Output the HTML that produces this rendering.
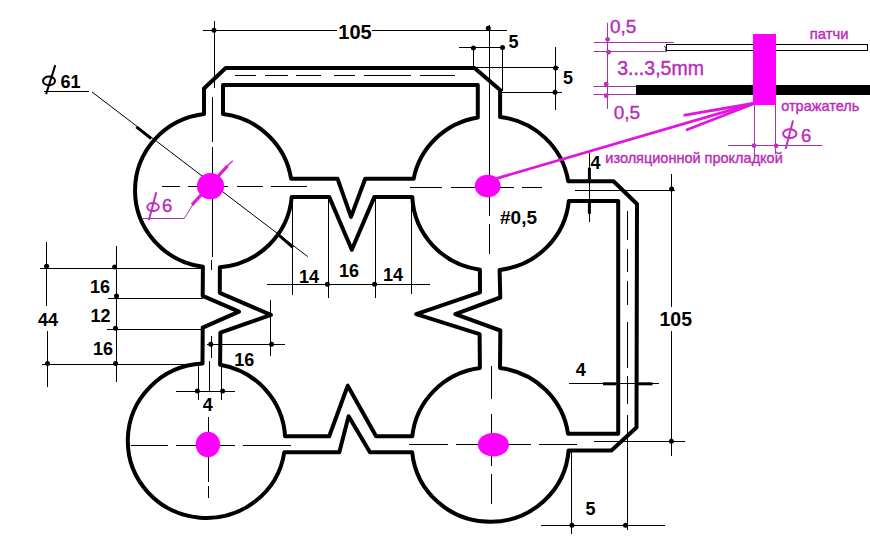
<!DOCTYPE html>
<html><head><meta charset="utf-8"><title>drawing</title><style>
html,body{margin:0;padding:0;background:#fff;overflow:hidden;}
svg{display:block;}
text{font-family:"Liberation Sans",sans-serif;}
</style></head><body>
<svg width="870" height="537" viewBox="0 0 870 537">
<rect width="870" height="537" fill="#fff"/>
<g stroke="#000" stroke-width="1" fill="none">
<line x1="203" y1="30.5" x2="507" y2="30.5"/>
<line x1="214.5" y1="21" x2="214.5" y2="88"/>
<line x1="489.5" y1="25" x2="489.5" y2="100"/>
<line x1="235" y1="75.5" x2="256" y2="75.5"/>
<line x1="265" y1="75.5" x2="288" y2="75.5"/>
<line x1="296" y1="75.5" x2="321" y2="75.5"/>
<line x1="334" y1="75.5" x2="355" y2="75.5"/>
<line x1="364" y1="75.5" x2="411" y2="75.5"/>
<line x1="420" y1="75.5" x2="455" y2="75.5"/>
<line x1="459" y1="47.5" x2="504" y2="47.5"/>
<line x1="473.5" y1="48" x2="473.5" y2="67"/>
<line x1="502.5" y1="48" x2="502.5" y2="91"/>
<line x1="555.5" y1="47" x2="555.5" y2="110"/>
<line x1="476" y1="67.5" x2="559" y2="67.5"/>
<line x1="500" y1="92.5" x2="562" y2="92.5"/>
<line x1="212.5" y1="97" x2="212.5" y2="142"/>
<line x1="212.5" y1="147" x2="212.5" y2="257"/>
<line x1="211.5" y1="260" x2="211.5" y2="270"/>
<line x1="162" y1="186.5" x2="180" y2="186.5"/>
<line x1="188" y1="186.5" x2="228" y2="186.5"/>
<line x1="237" y1="186.5" x2="263" y2="186.5"/>
<line x1="271" y1="186.5" x2="307" y2="186.5"/>
<line x1="489.5" y1="100" x2="489.5" y2="216"/>
<line x1="489.5" y1="224" x2="489.5" y2="254"/>
<line x1="410" y1="187.5" x2="442" y2="187.5"/>
<line x1="451" y1="187.5" x2="514" y2="187.5"/>
<line x1="522" y1="187.5" x2="542" y2="187.5"/>
<line x1="209.5" y1="361" x2="209.5" y2="391"/>
<line x1="208.5" y1="417" x2="208.5" y2="482"/>
<line x1="208.5" y1="486" x2="208.5" y2="498"/>
<line x1="131" y1="445.5" x2="168" y2="445.5"/>
<line x1="176" y1="445.5" x2="196" y2="445.5"/>
<line x1="196" y1="445.5" x2="220" y2="445.5"/>
<line x1="220" y1="445.5" x2="235" y2="445.5"/>
<line x1="243" y1="445.5" x2="291" y2="445.5"/>
<line x1="491.5" y1="366" x2="491.5" y2="399"/>
<line x1="491.5" y1="414" x2="491.5" y2="466"/>
<line x1="491.5" y1="474" x2="491.5" y2="504"/>
<line x1="409" y1="444.5" x2="448" y2="444.5"/>
<line x1="456" y1="444.5" x2="531" y2="444.5"/>
<line x1="539" y1="444.5" x2="577" y2="444.5"/>
<line x1="44" y1="91.5" x2="89" y2="91.5"/>
<line x1="92" y1="92" x2="307.7" y2="256.6"/>
<line x1="46.5" y1="242" x2="46.5" y2="306"/>
<line x1="47.5" y1="331" x2="47.5" y2="387"/>
<line x1="40" y1="268.5" x2="202" y2="268.5"/>
<line x1="42" y1="364.5" x2="201" y2="364.5"/>
<line x1="116.5" y1="246" x2="116.5" y2="382"/>
<line x1="108" y1="298.5" x2="203" y2="298.5"/>
<line x1="107" y1="329.5" x2="203" y2="329.5"/>
<line x1="270.5" y1="300" x2="270.5" y2="356"/>
<line x1="207" y1="344.5" x2="285" y2="344.5"/>
<line x1="211.5" y1="336" x2="211.5" y2="358"/>
<line x1="176" y1="391.5" x2="235" y2="391.5"/>
<line x1="198.5" y1="365" x2="198.5" y2="400"/>
<line x1="221.5" y1="365" x2="221.5" y2="400"/>
<line x1="267" y1="284.5" x2="430" y2="284.5"/>
<line x1="292.5" y1="197" x2="292.5" y2="295"/>
<line x1="328.5" y1="197" x2="328.5" y2="298"/>
<line x1="375.5" y1="197" x2="375.5" y2="298"/>
<line x1="411.5" y1="197" x2="411.5" y2="294"/>
<line x1="589.5" y1="153" x2="589.5" y2="222"/>
<line x1="575" y1="190.5" x2="675" y2="190.5"/>
<line x1="671.5" y1="174" x2="671.5" y2="307"/>
<line x1="671.5" y1="331" x2="671.5" y2="456"/>
<line x1="594" y1="441.5" x2="685" y2="441.5"/>
<line x1="627.5" y1="211" x2="627.5" y2="240"/>
<line x1="627.5" y1="249" x2="627.5" y2="272"/>
<line x1="627.5" y1="281" x2="627.5" y2="305"/>
<line x1="627.5" y1="313" x2="627.5" y2="313"/>
<line x1="627.5" y1="322" x2="627.5" y2="368"/>
<line x1="627.5" y1="376" x2="627.5" y2="404"/>
<line x1="627.5" y1="415" x2="627.5" y2="442"/>
<line x1="627.5" y1="442" x2="627.5" y2="530"/>
<line x1="569" y1="383.5" x2="659" y2="383.5"/>
<line x1="571.5" y1="450" x2="571.5" y2="534"/>
<line x1="541" y1="525.5" x2="665" y2="525.5"/>
</g>
<g stroke="#000" stroke-width="3" fill="none">
<line x1="136.4" y1="126.8" x2="151.3" y2="138.7"/>
<line x1="279.5" y1="235.6" x2="292.9" y2="247.5"/>
<line x1="589.4" y1="167.7" x2="589.4" y2="179.4"/>
<line x1="589.4" y1="202" x2="589.4" y2="213.8"/>
<line x1="603" y1="383.8" x2="616" y2="383.8"/>
<line x1="638" y1="383.8" x2="652.5" y2="383.8"/>
</g>
<g stroke="#000" stroke-width="4" fill="none" stroke-linejoin="round">
<path d="M204.00,88.50 L225.70,68.00 L474.50,68.00 L500.10,90.00 L500.10,116.95 A78.5,77.0 0 0 1 568.21,181.20 L613.50,181.20 L637.00,204.00 L636.50,427.60 L611.40,450.50 L568.57,450.50 A78.5,77.2 0 0 1 412.18,452.20 L370.00,452.20 L348.60,416.30 L339.30,452.20 L284.32,452.20 A78.7,77.2 0 1 1 202.50,363.60 L202.70,327.60 L239.00,311.60 L202.70,295.90 L202.90,266.79 A78.5,77.0 0 0 1 204.00,114.07 Z"/>
<path d="M223.00,114.07 L223.00,85.00 L477.80,85.00 L477.80,117.45 A78.5,77.0 0 0 0 413.62,178.80 L365.20,178.80 L351.00,216.90 L337.60,178.80 L291.09,178.80 A78.5,77.0 0 0 0 223.00,114.07 Z"/>
<path d="M291.73,196.90 L329.20,196.90 L351.80,249.80 L374.40,196.90 L412.28,196.90 A78.5,77.0 0 0 0 479.90,269.67 L480.00,292.30 L416.20,314.10 L479.60,334.20 L479.90,368.08 A78.5,77.2 0 0 0 412.27,436.20 L376.10,436.20 L347.70,385.70 L329.20,436.20 L285.07,436.20 A78.7,77.2 0 0 0 220.10,364.66 L220.40,332.70 L270.90,314.90 L219.80,292.80 L219.90,267.24 A78.5,77.0 0 0 0 291.73,196.90 Z"/>
<path d="M568.82,201.00 L618.20,201.00 L618.20,433.70 L568.01,433.70 A78.5,77.2 0 0 0 500.00,367.99 L500.30,330.50 L455.30,314.10 L500.30,297.50 L499.60,269.90 A78.5,77.0 0 0 0 568.82,201.00 Z"/>
</g>
<g fill="#000">
<circle cx="214" cy="30.3" r="2.5"/>
<circle cx="488.3" cy="28.3" r="2.5"/>
<circle cx="473.4" cy="48.0" r="2.5"/>
<circle cx="502.5" cy="47.6" r="2.5"/>
<circle cx="555.6" cy="68.0" r="2.5"/>
<circle cx="555.0" cy="92.3" r="2.5"/>
<circle cx="46.6" cy="266.3" r="2.5"/>
<circle cx="47.5" cy="363.6" r="2.5"/>
<circle cx="114.6" cy="267.0" r="2.5"/>
<circle cx="116.5" cy="296" r="2.5"/>
<circle cx="115.5" cy="328.2" r="2.5"/>
<circle cx="115.6" cy="363.6" r="2.5"/>
<circle cx="210.8" cy="344.2" r="2.5"/>
<circle cx="271.6" cy="344.2" r="2.5"/>
<circle cx="197.4" cy="391.1" r="2.5"/>
<circle cx="222.6" cy="391.1" r="2.5"/>
<circle cx="327.4" cy="284.2" r="2.5"/>
<circle cx="374.6" cy="284.2" r="2.5"/>
<circle cx="671.6" cy="189.1" r="2.5"/>
<circle cx="671.4" cy="441.3" r="2.5"/>
<circle cx="571.9" cy="525.2" r="2.5"/>
<circle cx="625.5" cy="525.2" r="2.5"/>
</g>
<g fill="#fff">
<rect x="337" y="22" width="35" height="18"/>
<rect x="35" y="306" width="27" height="25"/>
<rect x="657" y="307" width="37" height="24"/>
</g>
<g stroke="#000" stroke-width="2" fill="none"><ellipse cx="49" cy="80.9" rx="6" ry="4.3"/><line x1="55.3" y1="65.1" x2="46.1" y2="94.1"/></g>
<text x="338.3" y="38.7" font-size="20" font-weight="bold" fill="#000">105</text>
<text x="508.5" y="47.5" font-size="18" font-weight="bold" fill="#000">5</text>
<text x="563.0" y="84.2" font-size="18" font-weight="bold" fill="#000">5</text>
<text x="60.5" y="87.8" font-size="18" font-weight="bold" fill="#000">61</text>
<text x="500.0" y="224.2" font-size="19" font-weight="bold" fill="#000">#0,5</text>
<text x="38.0" y="325.5" font-size="18" font-weight="bold" fill="#000">44</text>
<text x="90.0" y="293.0" font-size="18" font-weight="bold" fill="#000">16</text>
<text x="90.5" y="322.2" font-size="18" font-weight="bold" fill="#000">12</text>
<text x="93.0" y="354.6" font-size="18" font-weight="bold" fill="#000">16</text>
<text x="234.2" y="366.0" font-size="18" font-weight="bold" fill="#000">16</text>
<text x="202.8" y="411.3" font-size="18" font-weight="bold" fill="#000">4</text>
<text x="299.0" y="282.8" font-size="18" font-weight="bold" fill="#000">14</text>
<text x="339.0" y="277.2" font-size="18" font-weight="bold" fill="#000">16</text>
<text x="383.0" y="281.4" font-size="18" font-weight="bold" fill="#000">14</text>
<text x="590.5" y="168.9" font-size="18" font-weight="bold" fill="#000">4</text>
<text x="659.5" y="325.6" font-size="19.5" font-weight="bold" fill="#000">105</text>
<text x="575.8" y="376.0" font-size="18" font-weight="bold" fill="#000">4</text>
<text x="585.5" y="515.3" font-size="18" font-weight="bold" fill="#000">5</text>
<text x="610.0" y="32.6" font-size="19" font-weight="normal" fill="#b92db9" stroke="#b92db9" stroke-width="0.4">0,5</text>
<text x="617.2" y="74.6" font-size="19.5" font-weight="normal" fill="#b92db9" stroke="#b92db9" stroke-width="0.4">3...3,5mm</text>
<text x="613.7" y="119.3" font-size="19" font-weight="normal" fill="#b92db9" stroke="#b92db9" stroke-width="0.4">0,5</text>
<text x="809.8" y="38.8" font-size="14.8" font-weight="normal" fill="#b92db9" stroke="#b92db9" stroke-width="0.4">патчи</text>
<text x="781.2" y="111.0" font-size="14.5" font-weight="normal" fill="#b92db9" stroke="#b92db9" stroke-width="0.4">отражатель</text>
<text x="605.3" y="163.2" font-size="14.5" font-weight="normal" fill="#b92db9" stroke="#b92db9" stroke-width="0.4">изоляционной прокладкой</text>
<text x="801.0" y="141.5" font-size="18.5" font-weight="normal" fill="#b92db9" stroke="#b92db9" stroke-width="0.4">6</text>
<text x="162.0" y="212.4" font-size="18.5" font-weight="normal" fill="#b92db9" stroke="#b92db9" stroke-width="0.4">6</text>
<g stroke="#dc1edc" fill="none">
<line x1="192" y1="204.8" x2="227.5" y2="165.8" stroke-width="3.2"/>
<line x1="227" y1="166.3" x2="232.8" y2="160.8" stroke-width="1.3"/>
</g>
<g fill="#ff00ff">
<ellipse cx="210.5" cy="186.1" rx="13.6" ry="13.2"/>
<ellipse cx="487.7" cy="186.1" rx="12.9" ry="11.3"/>
<ellipse cx="207.9" cy="444.5" rx="12.2" ry="12.8"/>
<ellipse cx="493.4" cy="444.7" rx="15.5" ry="11.8"/>
<rect x="753" y="34" width="23" height="71"/>
</g>
<g stroke="#e016e0" stroke-width="2.8" fill="none" stroke-linecap="round">
<line x1="492" y1="179.8" x2="753.6" y2="103.4"/>
<line x1="684.7" y1="115.2" x2="753" y2="103.5"/>
<line x1="687" y1="129.7" x2="753" y2="104"/>
</g>
<g stroke="#a535a5" stroke-width="1" fill="none">
<line x1="607.5" y1="22.8" x2="607.5" y2="109"/>
<line x1="593.6" y1="42.5" x2="673.8" y2="42.5"/>
<line x1="593.6" y1="51.5" x2="667" y2="51.5"/>
<line x1="593.3" y1="86.5" x2="636" y2="86.5"/>
<line x1="593.3" y1="94.5" x2="636" y2="94.5"/>
<line x1="754.5" y1="105" x2="754.5" y2="156"/>
<line x1="775.5" y1="105" x2="775.5" y2="154"/>
<line x1="728" y1="145.5" x2="822.5" y2="145.5"/>
<line x1="142.4" y1="218.5" x2="184.1" y2="218.5"/>
<line x1="184.1" y1="218.6" x2="193" y2="204.3"/>
</g>
<g fill="#c030c0">
<circle cx="607.6" cy="39.3" r="2.4"/>
<circle cx="608.6" cy="52.2" r="2.4"/>
<circle cx="606.2" cy="84.2" r="2.4"/>
<circle cx="606.2" cy="95.7" r="2.4"/>
<circle cx="754.0" cy="145.6" r="2.4"/>
<circle cx="776.2" cy="145.8" r="2.4"/>
</g>
<g stroke="#c030c0" stroke-width="2" fill="none"><ellipse cx="789.8" cy="133.7" rx="6.7" ry="4.4"/><line x1="793" y1="120.5" x2="785.7" y2="149"/><ellipse cx="153" cy="207.1" rx="5.8" ry="4.0"/><line x1="156.3" y1="192.2" x2="148.8" y2="220.3"/></g>
<rect x="666.5" y="44.5" width="201" height="6" fill="#fff" stroke="#000" stroke-width="1"/>
<path d="M664.3,46.2 L666.3,48.2 L665.3,50.5" stroke="#000" stroke-width="1" fill="none"/>
<rect x="636" y="85" width="234" height="10" fill="#000"/>
<rect x="753" y="34" width="23" height="71" fill="#ff00ff"/>
</svg>
</body></html>
